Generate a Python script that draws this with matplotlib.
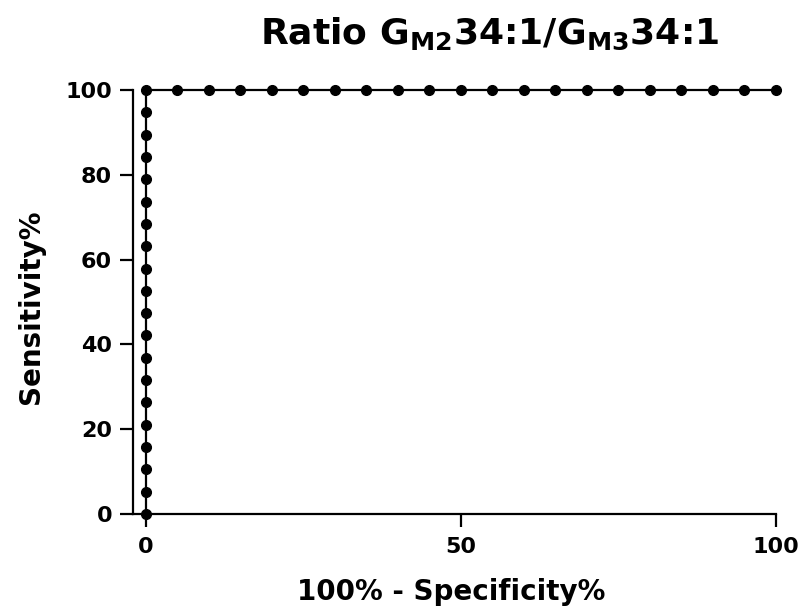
import matplotlib
matplotlib.use("Agg")
from matplotlib import pyplot as plt

plt.rcParams['font.family'] = ['DejaVu Sans']
plt.rcParams['font.weight'] = 'bold'
plt.rcParams['mathtext.fontset'] = 'dejavusans'
plt.rcParams['mathtext.default'] = 'bf'

# ROC points: 100% - specificity (x) vs sensitivity (y)
spec = [0]*20 + [5, 10, 15, 20, 25, 30, 35, 40, 45, 50,
                 55, 60, 65, 70, 75, 80, 85, 90, 95, 100]
sens = [0, 5.263, 10.53, 15.79, 21.05, 26.32, 31.58, 36.84, 42.11, 47.37,
        52.63, 57.89, 63.16, 68.42, 73.68, 78.95, 84.21, 89.47, 94.74, 100] + [100]*20

xticks = [0, 50, 100]
yticks = [0, 20, 40, 60, 80, 100]

fig = plt.figure(figsize=(8, 6.15), dpi=100)
ax = fig.add_axes([0.16625, 0.1642, 0.80375, 0.6894])

ax.plot(spec, sens, color='black', linewidth=1.6, marker='o', markersize=7,
        clip_on=False, zorder=3)

ax.set_xlim(-2.05, 100)
ax.set_ylim(0, 100)
ax.set_xticks(xticks)
ax.set_yticks(yticks)
ax.spines['top'].set_visible(False)
ax.spines['right'].set_visible(False)
ax.spines['left'].set_linewidth(1.6)
ax.spines['bottom'].set_linewidth(1.6)
ax.spines['bottom'].set_bounds(0, 100)
ax.tick_params(width=1.6, length=9.5, labelsize=16)
ax.tick_params(axis='y', pad=5.5)
ax.tick_params(axis='x', pad=7)
# extend y=0 tick line to join the axes
ax.plot([-2.05, 0], [0, 0], color='black', linewidth=1.6, clip_on=False)

ax.set_xlabel('100% - Specificity%', fontsize=20, fontweight='bold')
ax.set_ylabel('Sensitivity%', fontsize=20, fontweight='bold')
ax.xaxis.set_label_coords(0.495, -0.152)
ax.yaxis.set_label_coords(-0.137, 0.49)

fig.text(0.6125, 0.929, r'Ratio G$_{M2}$34:1/G$_{M3}$34:1',
         fontsize=26, fontweight='bold', ha='center', va='baseline')

fig.savefig('out.png', dpi=100)
